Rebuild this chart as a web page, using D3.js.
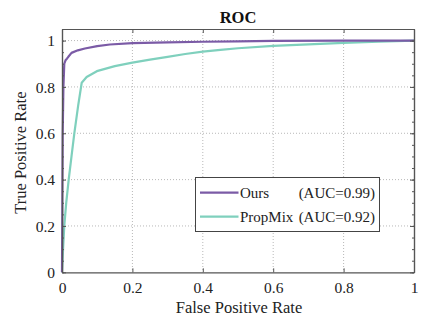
<!DOCTYPE html>
<html><head><meta charset="utf-8">
<script src="https://cdn.jsdelivr.net/npm/d3@7"></script>
<style>body{margin:0;background:#fff}svg{display:block}</style>
</head><body>
<script>
const seriesNames = ["Ours", "PropMix"];
const aucLabels = ["(AUC=0.99)", "(AUC=0.92)"];
const oursFPR = [0, 0.001, 0.002, 0.004, 0.0065, 0.01, 0.014, 0.018, 0.027, 0.045, 0.065, 0.1, 0.136, 0.2, 0.3, 0.4, 0.5, 0.6, 0.8, 1];
const oursTPR = [0, 0.3, 0.6, 0.8, 0.9, 0.915, 0.922, 0.93, 0.947, 0.958, 0.966, 0.976, 0.983, 0.989, 0.992, 0.995, 0.997, 0.999, 1, 1];
const propFPR = [0, 0.003, 0.0065, 0.012, 0.019, 0.027, 0.035, 0.046, 0.056, 0.07, 0.099, 0.15, 0.2, 0.25, 0.3, 0.35, 0.4, 0.45, 0.5, 0.6, 0.7, 0.8, 0.9, 1];
const propTPR = [0, 0.1, 0.2, 0.3, 0.4, 0.5, 0.6, 0.72, 0.818, 0.843, 0.868, 0.89, 0.905, 0.918, 0.93, 0.942, 0.952, 0.96, 0.967, 0.977, 0.984, 0.99, 0.995, 1];
const xTicks = [0, 0.2, 0.4, 0.6, 0.8, 1];
const yTicks = [0, 0.2, 0.4, 0.6, 0.8, 1];
const colors = ["#7b5ba6", "#7fd0bd"];

const W = 440, H = 320;
const L = 62, R = 414, T = 29, B = 272.3;
const svg = d3.select("body").append("svg").attr("width", W).attr("height", H);
const x = d3.scaleLinear().domain([0, 1]).range([L, R]);
const y = d3.scaleLinear().domain([0, 1.05]).range([B, T]);
const font = "'Liberation Serif','Times New Roman',serif";

// grid
const g = svg.append("g");
g.selectAll(".gx").data(xTicks.slice(1, -1)).join("line")
  .attr("x1", d => x(d)).attr("x2", d => x(d)).attr("y1", T).attr("y2", B)
  .attr("stroke", "#b8b8b8").attr("stroke-width", 1).attr("stroke-dasharray", "1,2");
g.selectAll(".gy").data(yTicks.slice(1)).join("line")
  .attr("y1", d => y(d)).attr("y2", d => y(d)).attr("x1", L).attr("x2", R)
  .attr("stroke", "#b8b8b8").attr("stroke-width", 1).attr("stroke-dasharray", "1,2");

// curves
const line = d3.line().x(d => x(d[0])).y(d => y(d[1]));
const series = [d3.zip(oursFPR, oursTPR), d3.zip(propFPR, propTPR)];
svg.selectAll(".curve").data([1, 0]).join("path")
  .attr("d", i => line(series[i])).attr("fill", "none")
  .attr("stroke", i => colors[i]).attr("stroke-width", 2.2).attr("stroke-linejoin", "round");

// axes
const axColor = "#555";
const xb = svg.append("g").attr("transform", `translate(0,${B})`)
  .call(d3.axisBottom(x).tickValues(xTicks).tickFormat(d3.format("")).tickSizeInner(-4).tickSizeOuter(0).tickPadding(9));
const xt = svg.append("g").attr("transform", `translate(0,${T})`)
  .call(d3.axisTop(x).tickValues(xTicks).tickFormat("").tickSizeInner(-4).tickSizeOuter(0));
const yMinor = d3.range(0, 21).map(i => i * 0.05);
const yl = svg.append("g").attr("transform", `translate(${L},0)`)
  .call(d3.axisLeft(y).tickValues(yTicks).tickFormat(d3.format("")).tickSizeInner(-4).tickSizeOuter(0).tickPadding(7));
const yr = svg.append("g").attr("transform", `translate(${R},0)`)
  .call(d3.axisRight(y).tickValues(yTicks).tickFormat("").tickSizeInner(-4).tickSizeOuter(0));
const ylm = svg.append("g").attr("transform", `translate(${L},0)`)
  .call(d3.axisLeft(y).tickValues(yMinor).tickFormat("").tickSizeInner(-2).tickSizeOuter(0));
const yrm = svg.append("g").attr("transform", `translate(${R},0)`)
  .call(d3.axisRight(y).tickValues(yMinor).tickFormat("").tickSizeInner(-2).tickSizeOuter(0));
[xb, xt, yl, yr, ylm, yrm].forEach(a => {
  a.attr("font-family", null).attr("font-size", null);
  a.selectAll("path").attr("stroke", axColor).attr("stroke-width", 1.2);
  a.selectAll("line").attr("stroke", axColor);
  a.selectAll("text").attr("fill", "#222").style("font-family", font).style("font-size", "15.5px");
});
xb.selectAll("text").attr("dy", null).attr("y", 21);
yl.selectAll("text").attr("dy", "0.33em");

// title & labels
svg.append("text").attr("x", (L + R) / 2).attr("y", 22.5).attr("text-anchor", "middle")
  .style("font-family", font).style("font-size", "16.5px").style("font-weight", "bold").attr("fill", "#111").text("ROC");
svg.append("text").attr("x", (L + R) / 2 + 1).attr("y", 313).attr("text-anchor", "middle")
  .style("font-family", font).style("font-size", "16.5px").attr("fill", "#222").text("False Positive Rate");
svg.append("text").attr("transform", `translate(26,${(T + B) / 2 + 2}) rotate(-90)`).attr("text-anchor", "middle")
  .style("font-family", font).style("font-size", "16.5px").attr("fill", "#222").text("True Positive Rate");

// legend
const lg = svg.append("g");
lg.append("rect").attr("x", 195.5).attr("y", 177.5).attr("width", 184).attr("height", 54)
  .attr("fill", "#fff").attr("stroke", "#444").attr("stroke-width", 1);
const rows = [192.7, 216.7];
seriesNames.forEach((n, i) => {
  lg.append("line").attr("x1", 200).attr("x2", 238.5).attr("y1", rows[i]).attr("y2", rows[i])
    .attr("stroke", colors[i]).attr("stroke-width", 2.2);
  lg.append("text").attr("x", 240).attr("y", rows[i]).attr("dy", "0.35em")
    .style("font-family", font).style("font-size", "15px").attr("fill", "#222").text(n);
  lg.append("text").attr("x", 375).attr("y", rows[i]).attr("dy", "0.35em").attr("text-anchor", "end")
    .style("font-family", font).style("font-size", "15px").attr("fill", "#222").text(aucLabels[i]);
});
</script>
</body></html>
